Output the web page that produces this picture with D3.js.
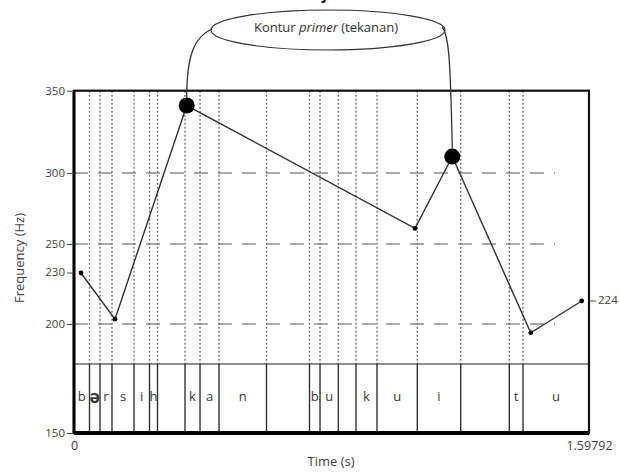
<!DOCTYPE html>
<html>
<head>
<meta charset="utf-8">
<script src="https://cdn.jsdelivr.net/npm/d3@7"></script>
<style>
  html, body { margin: 0; padding: 0; background: #fff; }
  svg { display: block; }
  text { font-family: "Open Sans", "Liberation Sans", sans-serif; }
</style>
</head>
<body>
<svg id="chart" width="619" height="472"></svg>
<script>
// Time axis (seconds)
const timeDomain = [0, 1.59792];
const timeTicks = [0, 1.59792];

// Frequency axis (Hz)
const freqTicks = [150, 200, 250, 300, 350];
const gridFreqs = [200, 250, 300];

// Segment boundaries of the text tier (seconds)
const boundaries = [0.0481, 0.0807, 0.1179, 0.1862, 0.2343, 0.2591, 0.3444, 0.3910,
  0.4499, 0.5973, 0.7307, 0.7633, 0.8201, 0.8750, 0.9401, 1.0652, 1.1999, 1.3507, 1.3932];

// Segment labels, one per interval between boundaries
const segments = ["b", "ə", "r", "s", "i", "h", "", "k", "a", "n", "", "b", "u", "", "k", "u", "i", "", "t", "u"];

// Stylised pitch contour
const pitchTimes = [0.0217, 0.1272, 0.3497, 1.0581, 1.1738, 1.4171, 1.5753];
const pitchHz    = [230, 205, 341, 261, 310, 196, 224];
const accented   = [false, false, true, false, true, false, false];

// Start / end values written beside the contour
const edgeLabels = [{ side: "left", hz: 230 }, { side: "right", hz: 224 }];

const svg = d3.select("#chart");
const L = 74, R = 589, T = 90.7, B = 433, tierY = 364;

const x = d3.scaleLinear().domain(timeDomain).range([L, R]);
// Piecewise frequency axis, calibrated on the drawn reference values
const y = d3.scaleLinear()
  .domain([150, 200, 224, 230, 250, 300, 350])
  .range([B, 324, 301, 273, 244, 173, T]);

// dashed reference lines
svg.append("g").selectAll("line").data(gridFreqs).join("line")
  .attr("x1", L).attr("x2", 555)
  .attr("y1", d => y(d)).attr("y2", d => y(d))
  .attr("stroke", "#555").attr("stroke-width", 1.1)
  .attr("stroke-dasharray", "14,10");

// segment boundaries: dotted above the tier, solid inside it
const bnd = svg.append("g");
bnd.selectAll("line.dot").data(boundaries).join("line").attr("class", "dot")
  .attr("x1", d => x(d)).attr("x2", d => x(d))
  .attr("y1", T).attr("y2", tierY)
  .attr("stroke", "#777").attr("stroke-width", 1.4)
  .attr("stroke-dasharray", "2,2");
bnd.selectAll("line.solid").data(boundaries).join("line").attr("class", "solid")
  .attr("x1", d => x(d)).attr("x2", d => x(d))
  .attr("y1", tierY).attr("y2", B)
  .attr("stroke", "#333").attr("stroke-width", 1.4);

// tier separator
svg.append("line").attr("x1", L).attr("x2", R).attr("y1", tierY).attr("y2", tierY)
  .attr("stroke", "#222").attr("stroke-width", 1.2);

// segment labels
const edges = [timeDomain[0], ...boundaries, timeDomain[1]];
svg.append("g").selectAll("text").data(segments).join("text")
  .attr("x", (d, i) => (x(edges[i]) + x(edges[i + 1])) / 2)
  .attr("y", 398)
  .attr("text-anchor", "middle").attr("dominant-baseline", "middle")
  .attr("font-size", (d) => d === "ə" ? 18 : 13)
  .attr("font-weight", (d) => d === "ə" ? "bold" : "normal")
  .attr("fill", "#3a3a3a")
  .text(d => d);

// frame
svg.append("rect").attr("x", L).attr("y", T).attr("width", R - L).attr("height", B - T)
  .attr("fill", "none").attr("stroke", "#111").attr("stroke-width", 2.2);
svg.append("line").attr("x1", L).attr("x2", R).attr("y1", B).attr("y2", B)
  .attr("stroke", "#000").attr("stroke-width", 4);
svg.append("line").attr("x1", L).attr("x2", L).attr("y1", T).attr("y2", B)
  .attr("stroke", "#000").attr("stroke-width", 3);

// axes
const yAxis = svg.append("g").attr("transform", `translate(${L},0)`)
  .call(d3.axisLeft(y).tickValues(freqTicks).tickSize(7).tickPadding(2).tickFormat(d3.format("d")));
yAxis.select(".domain").remove();
yAxis.selectAll("line").attr("stroke", "#444");
yAxis.selectAll("text").attr("font-size", 11.5).attr("fill", "#444")
  .style("font-family", "'Open Sans', sans-serif");

const xAxis = svg.append("g").attr("transform", `translate(0,${B})`)
  .call(d3.axisBottom(x).tickValues(timeTicks).tickSize(0).tickPadding(8)
    .tickFormat(d => d === 0 ? "0" : String(d)));
xAxis.select(".domain").remove();
xAxis.selectAll("text").attr("font-size", 12.5).attr("fill", "#444")
  .style("font-family", "'Open Sans', sans-serif");

// start / end value labels
edgeLabels.forEach(e => {
  const yy = y(e.hz);
  const x0 = e.side === "left" ? L - 7 : R;
  svg.append("line").attr("x1", x0).attr("x2", x0 + 7).attr("y1", yy).attr("y2", yy)
    .attr("stroke", "#444");
  svg.append("text")
    .attr("x", e.side === "left" ? L - 9 : R + 9).attr("y", yy)
    .attr("text-anchor", e.side === "left" ? "end" : "start")
    .attr("dominant-baseline", "middle")
    .attr("font-size", 11.5).attr("fill", "#444")
    .text(e.hz);
});

// axis titles
svg.append("text").attr("x", 331).attr("y", 463).attr("text-anchor", "middle")
  .attr("dominant-baseline", "middle").attr("font-size", 13).attr("fill", "#444")
  .text("Time (s)");
svg.append("text").attr("transform", "translate(21,258) rotate(-90)")
  .attr("text-anchor", "middle").attr("dominant-baseline", "middle")
  .attr("font-size", 13).attr("fill", "#444")
  .text("Frequency (Hz)");

// pitch contour
const pts = pitchTimes.map((t, i) => ({ t, hz: pitchHz[i], acc: accented[i] }));
svg.append("path").datum(pts)
  .attr("d", d3.line().x(d => x(d.t)).y(d => y(d.hz)))
  .attr("fill", "none").attr("stroke", "#333").attr("stroke-width", 1.4);
svg.append("g").selectAll("circle").data(pts).join("circle")
  .attr("cx", d => x(d.t)).attr("cy", d => y(d.hz))
  .attr("r", d => d.acc ? 8 : 2.4)
  .attr("fill", "#000");

// annotation of the primary (stressed) contour
const ann = svg.append("g");
const acc = pts.filter(d => d.acc);
ann.append("ellipse").attr("cx", 328).attr("cy", 30).attr("rx", 117).attr("ry", 20)
  .attr("fill", "#fff").attr("stroke", "#333").attr("stroke-width", 1.2);
ann.append("path")
  .attr("d", `M212,29 C196,36 ${x(acc[0].t)},52 ${x(acc[0].t)},${y(acc[0].hz) - 8}`)
  .attr("fill", "none").attr("stroke", "#333").attr("stroke-width", 1.3);
ann.append("path")
  .attr("d", `M442,27 C449,35 ${x(acc[1].t) - 2},60 ${x(acc[1].t)},${y(acc[1].hz) - 8}`)
  .attr("fill", "none").attr("stroke", "#333").attr("stroke-width", 1.3);
const lab = ann.append("text").attr("x", 326).attr("y", 29)
  .attr("text-anchor", "middle").attr("dominant-baseline", "middle")
  .attr("font-size", 13).attr("fill", "#333");
lab.append("tspan").text("Kontur ");
lab.append("tspan").attr("font-style", "italic").text("primer");
lab.append("tspan").text(" (tekanan)");

// descender of the heading letter cut by the top edge
svg.append("text").attr("x", 325).attr("y", 0).attr("text-anchor", "middle")
  .attr("font-family", "'Liberation Serif', serif").attr("font-weight", "bold")
  .attr("font-size", 14).text("y");
</script>
</body>
</html>
